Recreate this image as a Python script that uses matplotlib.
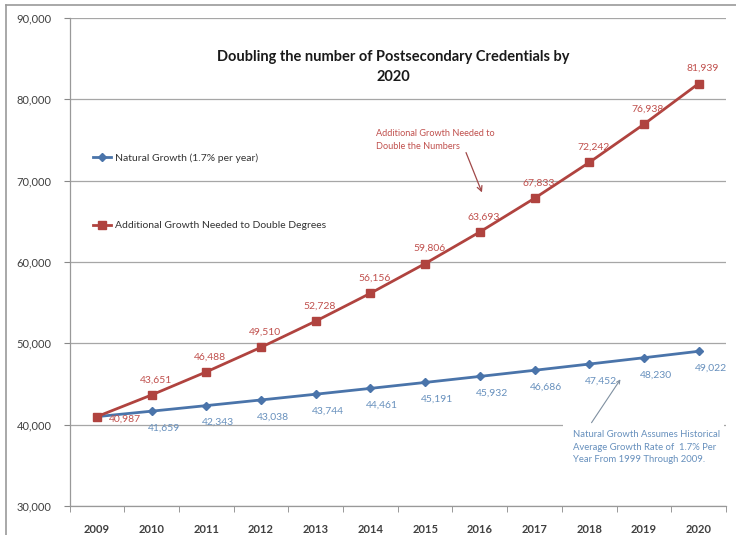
import matplotlib
matplotlib.use("Agg")
import matplotlib.pyplot as plt
from matplotlib.lines import Line2D
from matplotlib.patches import Rectangle

plt.rcParams['font.family'] = ['Lato', 'DejaVu Sans']

years = ['2009', '2010', '2011', '2012', '2013', '2014', '2015', '2016', '2017', '2018', '2019', '2020']
natural = [40987, 41659, 42343, 43038, 43744, 44461, 45191, 45932, 46686, 47452, 48230, 49022]
doubling = [40987, 43651, 46488, 49510, 52728, 56156, 59806, 63693, 67833, 72242, 76938, 81939]
yticks = [30000, 40000, 50000, 60000, 70000, 80000, 90000]

title = "Doubling the number of Postsecondary Credentials by\n2020"
natural_label = "Natural Growth (1.7% per year)"
doubling_label = "Additional Growth Needed to Double Degrees"
red_note = "Additional Growth Needed to\nDouble the Numbers"
blue_note = "Natural Growth Assumes Historical\nAverage Growth Rate of  1.7% Per\nYear From 1999 Through 2009."

W, H = 736, 535
fig = plt.figure(figsize=(W / 100, H / 100), dpi=100)
fig.patch.set_facecolor('white')

def fx(px):
    return px / W

def fy(py):
    return 1 - py / H

ax = fig.add_axes([fx(69.5), fy(506), fx(726) - fx(69.5), fy(18) - fy(506)])

# outer chart frame (cut off on the right and bottom)
fig.add_artist(Line2D([fx(6), fx(6)], [fy(5), 0], color='#9a9a9a', lw=1.2, transform=fig.transFigure))
fig.add_artist(Line2D([fx(6), 1], [fy(5), fy(5)], color='#9a9a9a', lw=1.2, transform=fig.transFigure))

x = list(range(len(years)))
blue = '#4a74aa'
red = '#b0433f'
blue_txt = '#6790bd'
red_txt = '#c0504d'

ax.plot(x, natural, color=blue, lw=2.0, marker='D', markersize=4.5, zorder=3)
ax.plot(x, doubling, color=red, lw=2.0, marker='s', markersize=6, zorder=4)

ax.set_xlim(-0.5, len(years) - 0.5)
ax.set_ylim(30000, 90000)
ax.set_yticks(yticks)
ax.set_yticklabels([f"{v:,}" for v in yticks])
ax.set_xticks(x)
ax.set_xticklabels(years)
ax.set_xticks([i - 0.5 for i in range(len(years) + 1)], minor=True)
ax.tick_params(axis='x', which='major', length=0, pad=13, labelsize=8, labelcolor='#404040')
ax.tick_params(axis='x', which='minor', length=4, direction='out', color='#888888')
ax.tick_params(axis='y', length=4, direction='out', color='#888888', pad=9, labelsize=8, labelcolor='#404040')
for lab in ax.get_xticklabels():
    lab.set_fontweight('bold')

ax.grid(axis='y', color='#a6a6a6', lw=0.9, zorder=0)
ax.set_axisbelow(True)
for s in ['top', 'right']:
    ax.spines[s].set_visible(False)
for s in ['left', 'bottom']:
    ax.spines[s].set_color('#999999')
    ax.spines[s].set_linewidth(0.9)

# data labels
for i, v in enumerate(natural):
    if i == 0:
        continue
    ax.annotate(f"{v:,}", (i, v), xytext=(12, -17), textcoords='offset pixels',
                ha='center', va='center', fontsize=7.5, color=blue_txt, zorder=5)
for i, v in enumerate(doubling):
    if i == 0:
        ax.annotate(f"{v:,}", (i, v), xytext=(12, -3), textcoords='offset pixels',
                    ha='left', va='center', fontsize=7.5, color=red_txt, zorder=5)
    else:
        ax.annotate(f"{v:,}", (i, v), xytext=(4, 15), textcoords='offset pixels',
                    ha='center', va='center', fontsize=7.5, color=red_txt, zorder=5)

# title
fig.text(fx(393), fy(67), title, ha='center', va='center', fontsize=10.5,
         fontweight='bold', color='#1a1a1a', linespacing=1.55)

# legend
handles = [Line2D([], [], color=blue, lw=2.0, marker='D', markersize=4),
           Line2D([], [], color=red, lw=2.0, marker='s', markersize=5.5)]
leg = fig.legend(handles, [natural_label, doubling_label], loc='upper left',
                 bbox_to_anchor=(fx(93), fy(153)), bbox_transform=fig.transFigure,
                 frameon=False, fontsize=7.5, labelspacing=5.6, handlelength=1.7,
                 handletextpad=0.4, borderpad=0, borderaxespad=0)
for t in leg.get_texts():
    t.set_color('#333333')

# red annotation
fig.text(fx(376), fy(140), red_note, ha='left', va='center', fontsize=6.6,
         color=red_txt, linespacing=1.55)
fig.add_artist(matplotlib.patches.FancyArrowPatch((fx(465), fy(150)), (fx(483), fy(195)),
               transform=fig.transFigure, arrowstyle='->', mutation_scale=9,
               color='#a04848', lw=0.9))

# blue annotation (white box covers the gridline)
fig.add_artist(Rectangle((fx(563), fy(470)), fx(724) - fx(563), fy(415) - fy(470),
               transform=fig.transFigure, facecolor='white', edgecolor='none', zorder=2))
fig.text(fx(573), fy(447), blue_note, ha='left', va='center', fontsize=6.8,
         color=blue_txt, linespacing=1.55, zorder=3)
fig.add_artist(matplotlib.patches.FancyArrowPatch((fx(590), fy(425)), (fx(622), fy(377)),
               transform=fig.transFigure, arrowstyle='->', mutation_scale=6,
               color='#7f8fa0', lw=0.8, zorder=3))

fig.savefig('out.png', dpi=100)
